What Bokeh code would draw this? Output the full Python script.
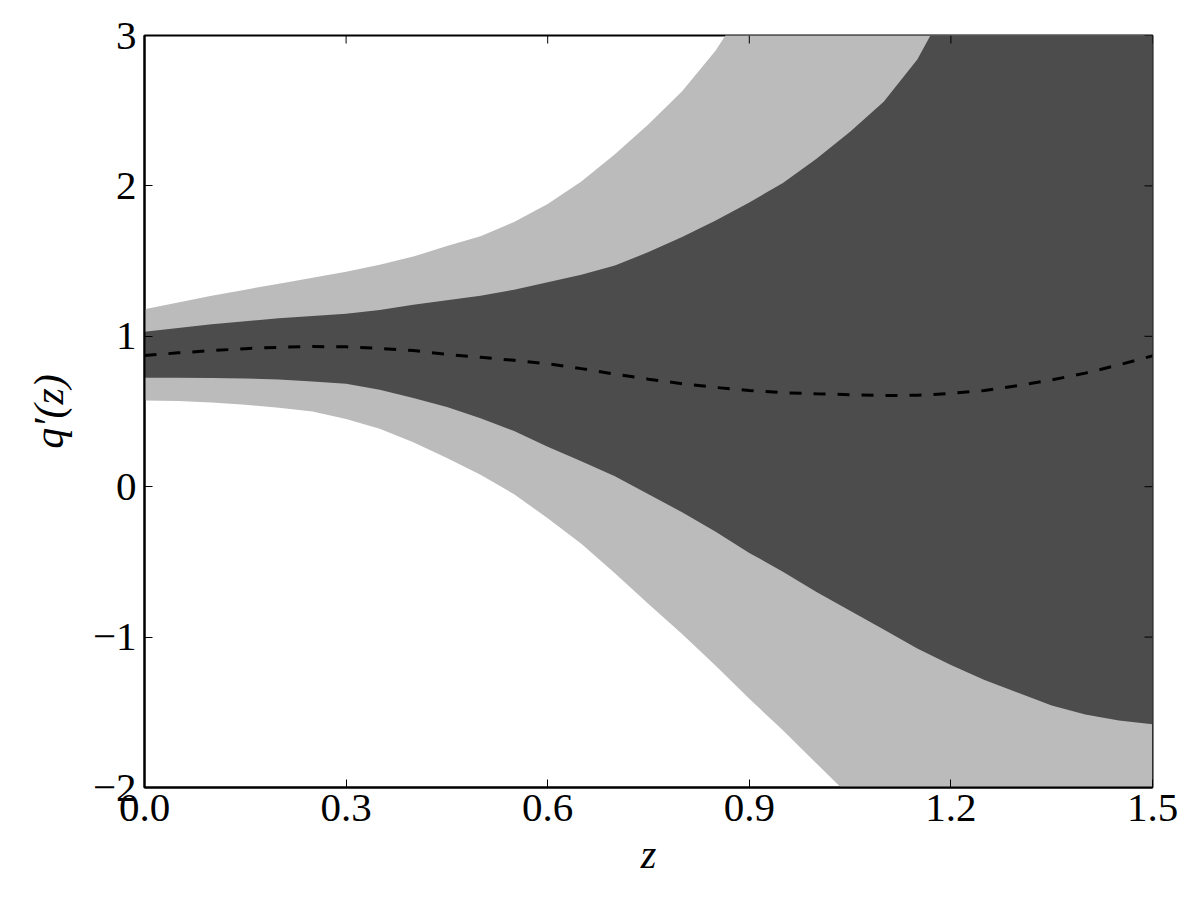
import math
from bokeh.plotting import figure
from bokeh.models import FixedTicker, Range1d, NumeralTickFormatter
from bokeh.embed import file_html
from bokeh.resources import INLINE

z = [0.00, 0.05, 0.10, 0.15, 0.20, 0.25, 0.30, 0.35, 0.40, 0.45, 0.50,
     0.55, 0.60, 0.65, 0.70, 0.75, 0.80, 0.85, 0.90, 0.95, 1.00, 1.05,
     1.10, 1.15, 1.20, 1.25, 1.30, 1.35, 1.40, 1.45, 1.50]

light_upper = [1.18, 1.225, 1.27, 1.31, 1.35, 1.39, 1.43, 1.475, 1.53, 1.60, 1.665,
               1.76, 1.88, 2.03, 2.21, 2.41, 2.63, 2.90, 3.25, 3.60, 4.00, 4.40,
               4.80, 5.20, 5.60, 6.00, 6.40, 6.80, 7.20, 7.60, 8.00]
dark_upper = [1.03, 1.055, 1.08, 1.10, 1.12, 1.135, 1.15, 1.175, 1.21, 1.24, 1.27,
              1.31, 1.36, 1.41, 1.47, 1.56, 1.66, 1.77, 1.89, 2.02, 2.18, 2.36,
              2.56, 2.84, 3.25, 3.70, 4.20, 4.70, 5.20, 5.70, 6.20]
median = [0.872, 0.89, 0.905, 0.918, 0.927, 0.932, 0.93, 0.92, 0.905, 0.88, 0.86,
          0.84, 0.817, 0.785, 0.748, 0.715, 0.685, 0.66, 0.64, 0.625, 0.618, 0.612,
          0.606, 0.608, 0.62, 0.64, 0.673, 0.71, 0.755, 0.81, 0.87]
dark_lower = [0.724, 0.724, 0.723, 0.72, 0.712, 0.70, 0.685, 0.645, 0.59, 0.53, 0.455,
              0.37, 0.265, 0.17, 0.07, -0.05, -0.17, -0.30, -0.44, -0.565, -0.70, -0.825,
              -0.95, -1.075, -1.185, -1.285, -1.37, -1.455, -1.515, -1.555, -1.58]
light_lower = [0.573, 0.57, 0.56, 0.545, 0.525, 0.50, 0.45, 0.385, 0.295, 0.19, 0.08,
               -0.05, -0.21, -0.38, -0.575, -0.78, -0.98, -1.19, -1.41, -1.62, -1.84, -2.06,
               -2.28, -2.50, -2.72, -2.94, -3.16, -3.38, -3.60, -3.82, -4.04]

x_ticks = [0.0, 0.3, 0.6, 0.9, 1.2, 1.5]
y_ticks = [-2, -1, 0, 1, 2, 3]
y_tick_labels = {-2: "\u22122", -1: "\u22121", 0: "0", 1: "1", 2: "2", 3: "3"}

X_MIN, X_MAX = 0.0, 1.5
Y_MIN, Y_MAX = -2.0, 3.0

FONT = "Liberation Serif"
FS = "41px"

p = figure(width=1200, height=900, x_range=Range1d(X_MIN, X_MAX), y_range=Range1d(Y_MIN, Y_MAX),
           output_backend="svg", toolbar_location=None,
           min_border_left=144, min_border_right=48, min_border_top=35, min_border_bottom=113)
p.grid.visible = False
p.outline_line_color = "black"
p.outline_line_width = 2
p.background_fill_color = "white"
p.border_fill_color = "white"

p.varea(x=z, y1=light_lower, y2=light_upper, fill_color="#bbbbbb", fill_alpha=1.0)
p.varea(x=z, y1=dark_lower, y2=dark_upper, fill_color="#4c4c4c", fill_alpha=1.0)
p.line(x=z, y=median, line_color="black", line_width=3, line_dash="12 12")

# inward ticks on the top and right edges (mirror of the bottom/left ticks)
p.ray(x=x_ticks, y=[Y_MAX] * len(x_ticks), length=8, length_units="screen",
      angle=-math.pi / 2, line_color="black", line_width=1)
p.ray(x=[X_MAX] * len(y_ticks), y=y_ticks, length=8, length_units="screen",
      angle=math.pi, line_color="black", line_width=1)


def style(ax):
    ax.major_tick_in = 8
    ax.major_tick_out = 0
    ax.minor_tick_line_color = None
    ax.axis_line_color = "black"
    ax.axis_line_width = 2
    ax.major_tick_line_color = "black"
    ax.major_tick_line_width = 1
    ax.major_label_text_font = FONT
    ax.major_label_text_color = "black"
    ax.major_label_text_font_size = FS


xa = p.xaxis[0]
xa.ticker = FixedTicker(ticks=x_ticks)
xa.formatter = NumeralTickFormatter(format="0.0")
style(xa)
xa.major_label_standoff = 7
xa.axis_label = "z"
xa.axis_label_text_font = FONT
xa.axis_label_text_font_style = "italic"
xa.axis_label_text_font_size = "40px"
xa.axis_label_text_color = "black"
xa.axis_label_standoff = 8

ya = p.yaxis[0]
ya.ticker = FixedTicker(ticks=y_ticks)
ya.major_label_overrides = y_tick_labels
style(ya)
ya.major_label_standoff = 8
ya.axis_label = "q\u2032(z)"
ya.axis_label_text_font = FONT
ya.axis_label_text_font_style = "italic"
ya.axis_label_text_font_size = "42px"
ya.axis_label_text_color = "black"
ya.axis_label_standoff = 18

open("out.html", "w").write(file_html(p, INLINE))
